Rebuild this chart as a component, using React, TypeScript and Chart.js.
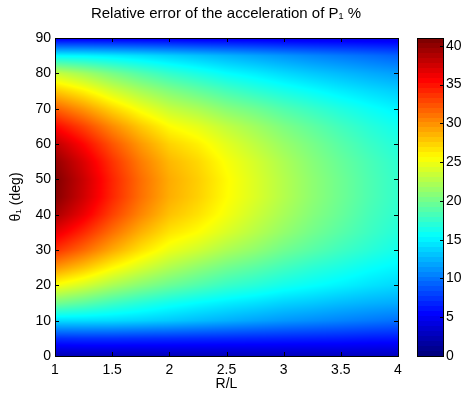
import React, { useEffect, useRef } from "react";
import { Chart, registerables } from "chart.js";

Chart.register(...registerables);

const FONT = "'Liberation Sans', Arial, Helvetica, sans-serif";

// R/L grid (columns) and theta_1 grid (rows, degrees)
const ratioValues = [1, 1.25, 1.5, 1.75, 2, 2.25, 2.5, 2.75, 3, 3.25, 3.5, 3.75, 4];
const thetaValues = [0, 5, 10, 15, 20, 25, 30, 35, 40, 45, 50, 55, 60, 65, 70, 75, 80, 85, 90];

// relative error (%) read along each theta row, one value per R/L column
const err0 = [2.1, 2.2, 2.2, 2.2, 2.3, 2.3, 2.3, 2.4, 2.4, 2.4, 2.5, 2.5, 2.5];
const err5 = [7.0, 7.1, 7.1, 7.0, 6.9, 6.8, 6.7, 6.6, 6.5, 6.4, 6.3, 6.1, 6.0];
const err10 = [14.0, 14.0, 13.9, 13.6, 13.2, 12.7, 12.2, 11.7, 11.2, 10.8, 10.4, 10.0, 9.6];
const err15 = [20.1, 19.1, 17.9, 16.9, 16.0, 15.3, 14.7, 14.2, 13.6, 13.2, 12.7, 12.3, 12.0];
const err20 = [25.4, 23.9, 22.2, 20.8, 19.6, 18.6, 17.6, 16.9, 16.1, 15.5, 14.9, 14.3, 13.8];
const err25 = [29.9, 28.0, 25.8, 24.0, 22.4, 21.1, 19.9, 19.0, 18.0, 17.1, 16.4, 15.6, 15.0];
const err30 = [34.0, 31.7, 29.1, 26.8, 24.9, 23.7, 22.3, 21.2, 19.9, 18.9, 17.9, 17.0, 16.1];
const err35 = [36.9, 34.3, 31.4, 28.8, 26.7, 25.6, 24.1, 22.7, 21.3, 20.0, 18.9, 17.8, 16.8];
const err40 = [39.4, 36.6, 33.3, 30.5, 28.1, 26.8, 25.2, 23.6, 22.1, 20.7, 19.5, 18.2, 17.2];
const err45 = [40.8, 37.8, 34.4, 31.4, 28.9, 27.5, 25.7, 24.2, 22.6, 21.1, 19.8, 18.5, 17.4];
const err50 = [41.0, 38.0, 34.5, 31.5, 29.0, 27.6, 25.8, 24.2, 22.6, 21.1, 19.8, 18.5, 17.4];
const err55 = [40.2, 37.3, 33.9, 30.9, 28.5, 27.2, 25.4, 23.9, 22.3, 20.8, 19.5, 18.3, 17.2];
const err60 = [38.5, 35.7, 32.5, 29.7, 27.4, 26.2, 24.5, 23.0, 21.5, 20.2, 18.9, 17.7, 16.7];
const err65 = [35.7, 33.2, 30.3, 27.8, 25.7, 24.6, 23.1, 21.8, 20.4, 19.2, 18.0, 16.9, 16.0];
const err70 = [32.0, 29.8, 27.3, 25.1, 23.3, 22.2, 20.8, 19.8, 18.6, 17.6, 16.6, 15.7, 14.9];
const err75 = [27.9, 26.1, 23.9, 22.1, 20.6, 19.4, 18.2, 17.2, 16.3, 15.5, 14.7, 14.0, 13.4];
const err80 = [23.4, 21.9, 20.2, 18.7, 17.4, 16.4, 15.4, 14.7, 13.9, 13.2, 12.6, 12.0, 11.5];
const err85 = [15.2, 15.0, 14.6, 14.1, 13.5, 12.9, 12.3, 11.7, 11.1, 10.5, 10.0, 9.5, 9.0];
const err90 = [4.1, 4.2, 4.2, 4.2, 4.2, 4.1, 4.1, 4.1, 4.0, 4.0, 4.0, 4.0, 4.0];

const errorRows = [
  err0, err5, err10, err15, err20, err25, err30, err35, err40, err45,
  err50, err55, err60, err65, err70, err75, err80, err85, err90,
];

const xTickValues = [1, 1.5, 2, 2.5, 3, 3.5, 4];
const yTickValues = [0, 10, 20, 30, 40, 50, 60, 70, 80, 90];
const colorTickValues = [0, 5, 10, 15, 20, 25, 30, 35, 40];
const colorLimits = [0, 41];
const colorLevels = 64;

const TITLE = "Relative error of the acceleration of P\u2081 %";
const X_TITLE = "R/L";
const Y_TITLE = "\u03B8\u2081 (deg)";

function clamp01(v: number) {
  return Math.max(0, Math.min(1, v));
}
function jetRGB(t: number): [number, number, number] {
  const r = clamp01(1.5 - Math.abs(4 * t - 3));
  const g = clamp01(1.5 - Math.abs(4 * t - 2));
  const b = clamp01(1.5 - Math.abs(4 * t - 1));
  return [Math.round(r * 255), Math.round(g * 255), Math.round(b * 255)];
}
function jet(t: number) {
  const [r, g, b] = jetRGB(t);
  return `rgb(${r},${g},${b})`;
}

function locate(vals: number[], v: number): [number, number] {
  const n = vals.length;
  if (v <= vals[0]) return [0, 0];
  if (v >= vals[n - 1]) return [n - 2, 1];
  let i = 0;
  while (i < n - 2 && v > vals[i + 1]) i++;
  return [i, (v - vals[i]) / (vals[i + 1] - vals[i])];
}

// interpolated shading of the surface between the read grid nodes
function surfaceValue(r: number, th: number) {
  const [i, fx] = locate(ratioValues, r);
  const [j, fy] = locate(thetaValues, th);
  const a = errorRows[j][i];
  const b = errorRows[j][i + 1];
  const c = errorRows[j + 1][i];
  const d = errorRows[j + 1][i + 1];
  return (a * (1 - fx) + b * fx) * (1 - fy) + (c * (1 - fx) + d * fx) * fy;
}

const heatmapPlugin = {
  id: "heatmap",
  beforeDatasetsDraw(chart: any) {
    const { ctx, chartArea, scales } = chart;
    const xs = scales.x;
    const ys = scales.y;
    const left = Math.round(chartArea.left);
    const top = Math.round(chartArea.top);
    const w = Math.round(chartArea.right) - left;
    const h = Math.round(chartArea.bottom) - top;
    const off = document.createElement("canvas");
    off.width = w;
    off.height = h;
    const octx = off.getContext("2d") as CanvasRenderingContext2D;
    const img = octx.createImageData(w, h);
    const span = colorLimits[1] - colorLimits[0];
    for (let py = 0; py < h; py++) {
      const th = ys.getValueForPixel(top + py + 0.5);
      for (let px = 0; px < w; px++) {
        const r = xs.getValueForPixel(left + px + 0.5);
        const v = surfaceValue(r, th);
        const [cr, cg, cb] = jetRGB(clamp01((v - colorLimits[0]) / span));
        const k = (py * w + px) * 4;
        img.data[k] = cr;
        img.data[k + 1] = cg;
        img.data[k + 2] = cb;
        img.data[k + 3] = 255;
      }
    }
    octx.putImageData(img, 0, 0);
    ctx.drawImage(off, left, top);
  },
  afterDraw(chart: any) {
    const { ctx, chartArea, scales } = chart;
    const { left, right, top, bottom } = chartArea;
    ctx.save();
    ctx.strokeStyle = "#000";
    ctx.lineWidth = 1;
    ctx.beginPath();
    xTickValues.forEach((v) => {
      const px = Math.round(scales.x.getPixelForValue(v)) + 0.5;
      ctx.moveTo(px, bottom);
      ctx.lineTo(px, bottom - 4);
      ctx.moveTo(px, top);
      ctx.lineTo(px, top + 4);
    });
    yTickValues.forEach((v) => {
      const py = Math.round(scales.y.getPixelForValue(v)) + 0.5;
      ctx.moveTo(left, py);
      ctx.lineTo(left + 4, py);
      ctx.moveTo(right, py);
      ctx.lineTo(right - 4, py);
    });
    ctx.stroke();
    ctx.strokeRect(Math.round(left) + 0.5, Math.round(top) + 0.5, Math.round(right - left), Math.round(bottom - top));
    ctx.restore();
  },
};

const colorbarPlugin = {
  id: "colorbar",
  beforeDatasetsDraw(chart: any) {
    const { ctx, chartArea, scales } = chart;
    const ys = scales.y;
    const span = colorLimits[1] - colorLimits[0];
    ctx.save();
    for (let k = 0; k < colorLevels; k++) {
      const v0 = colorLimits[0] + (span * k) / colorLevels;
      const v1 = colorLimits[0] + (span * (k + 1)) / colorLevels;
      const ya = Math.round(ys.getPixelForValue(v1));
      const yb = Math.round(ys.getPixelForValue(v0));
      ctx.fillStyle = jet(k / (colorLevels - 1));
      ctx.fillRect(Math.round(chartArea.left), ya, Math.round(chartArea.right - chartArea.left), yb - ya);
    }
    ctx.restore();
  },
  afterDraw(chart: any) {
    const { ctx, chartArea, scales } = chart;
    const { left, right, top, bottom } = chartArea;
    ctx.save();
    ctx.strokeStyle = "#000";
    ctx.lineWidth = 1;
    ctx.beginPath();
    colorTickValues.forEach((v) => {
      const py = Math.round(scales.y.getPixelForValue(v)) + 0.5;
      ctx.moveTo(right, py);
      ctx.lineTo(right - 3, py);
    });
    ctx.stroke();
    ctx.strokeRect(Math.round(left) + 0.5, Math.round(top) + 0.5, Math.round(right - left), Math.round(bottom - top));
    ctx.restore();
  },
};

const tickFont = { family: FONT, size: 14 };
const noGrid = { display: false, drawTicks: false, tickLength: 0 };

export default function App() {
  const mainRef = useRef<HTMLCanvasElement>(null);
  const cbRef = useRef<HTMLCanvasElement>(null);

  useEffect(() => {
    const main = new Chart(mainRef.current as HTMLCanvasElement, {
      type: "scatter",
      data: { datasets: [{ data: [] }] },
      plugins: [heatmapPlugin],
      options: {
        animation: false,
        responsive: false,
        maintainAspectRatio: false,
        events: [],
        layout: { padding: 0 },
        plugins: {
          legend: { display: false },
          tooltip: { enabled: false },
          title: {
            display: true,
            text: TITLE,
            color: "#000",
            font: { family: FONT, size: 15, weight: "normal" },
            padding: { top: 5, bottom: 15 },
          },
        },
        scales: {
          x: {
            type: "linear",
            min: 1,
            max: 4,
            grid: noGrid,
            border: { display: false },
            afterBuildTicks: (s: any) => {
              s.ticks = xTickValues.map((v) => ({ value: v }));
            },
            afterFit: (s: any) => {
              s.height = 37;
            },
            ticks: {
              color: "#000",
              font: tickFont,
              padding: 6,
              maxRotation: 0,
              autoSkip: false,
              callback: (v: any) => String(v),
            },
            title: {
              display: true,
              text: X_TITLE,
              color: "#000",
              font: tickFont,
              padding: { top: 0, bottom: 0 },
            },
          },
          y: {
            type: "linear",
            min: 0,
            max: 90,
            grid: noGrid,
            border: { display: false },
            afterBuildTicks: (s: any) => {
              s.ticks = yTickValues.map((v) => ({ value: v }));
            },
            afterFit: (s: any) => {
              s.width = 55;
            },
            ticks: {
              color: "#000",
              font: tickFont,
              padding: 4,
              autoSkip: false,
              callback: (v: any) => String(v),
            },
            title: {
              display: true,
              text: Y_TITLE,
              color: "#000",
              font: tickFont,
              padding: { top: 8, bottom: 0 },
            },
          },
          yRight: {
            type: "linear",
            position: "right",
            display: true,
            grid: noGrid,
            border: { display: false },
            ticks: { display: false },
            afterFit: (s: any) => {
              s.width = 54;
            },
          },
        },
      } as any,
    });

    const cb = new Chart(cbRef.current as HTMLCanvasElement, {
      type: "scatter",
      data: { datasets: [{ data: [] }] },
      plugins: [colorbarPlugin],
      options: {
        animation: false,
        responsive: false,
        maintainAspectRatio: false,
        events: [],
        layout: { padding: { left: 17, right: 0, top: 38, bottom: 37 } },
        plugins: {
          legend: { display: false },
          tooltip: { enabled: false },
          title: { display: false },
        },
        scales: {
          x: { type: "linear", display: false },
          y: {
            type: "linear",
            position: "right",
            min: colorLimits[0],
            max: colorLimits[1],
            grid: noGrid,
            border: { display: false },
            afterBuildTicks: (s: any) => {
              s.ticks = colorTickValues.map((v) => ({ value: v }));
            },
            afterFit: (s: any) => {
              s.width = 21;
            },
            ticks: {
              color: "#000",
              font: tickFont,
              padding: 3,
              autoSkip: false,
              callback: (v: any) => String(v),
            },
          },
        },
      } as any,
    });

    return () => {
      main.destroy();
      cb.destroy();
    };
  }, []);

  return (
    <div style={{ position: "fixed", left: 0, top: 0, width: 464, height: 393, background: "#fff" }}>
      <canvas
        ref={mainRef}
        width={452}
        height={393}
        style={{ position: "absolute", left: 0, top: 0, width: 452, height: 393 }}
      />
      <canvas
        ref={cbRef}
        width={64}
        height={393}
        style={{ position: "absolute", left: 400, top: 0, width: 64, height: 393 }}
      />
    </div>
  );
}
